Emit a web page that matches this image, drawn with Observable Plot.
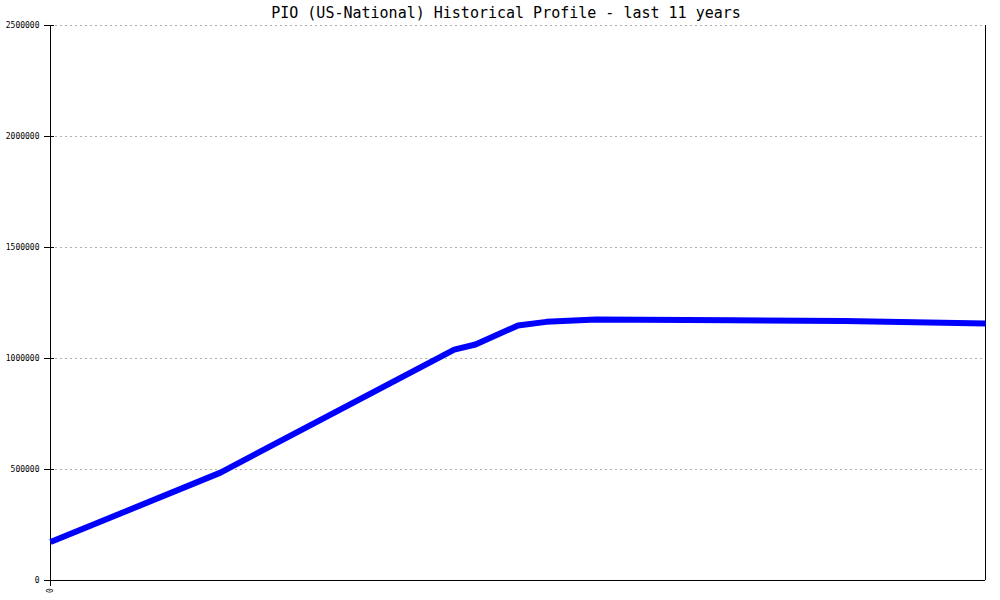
<!DOCTYPE html>
<html>
<head>
<meta charset="utf-8">
<script src="https://cdn.jsdelivr.net/npm/d3@7"></script>
<script src="https://cdn.jsdelivr.net/npm/@observablehq/plot@0.6"></script>
<style>
  html, body { margin: 0; padding: 0; background: #fff; }
  #chart svg { display: block; }
</style>
</head>
<body>
<div id="chart"></div>
<script>
// Month index since start of 11-year window
const months = [0, 24, 57, 60, 66, 70, 77, 96, 112, 120, 128, 132];
// Values
const values = [173000, 486000, 1040000, 1063000, 1149000, 1165000, 1176000, 1172000, 1169000, 1164000, 1160000, 1158000];
const yTicks = [0, 500000, 1000000, 1500000, 2000000, 2500000];
const xTicks = [0];
const titleText = "PIO (US-National) Historical Profile - last 11 years";

const data = months.map((m, i) => ({m, v: values[i]}));

const chart = Plot.plot({
  width: 1000,
  height: 600,
  marginLeft: 50,
  marginRight: 15,
  marginTop: 25,
  marginBottom: 20,
  style: {fontFamily: "'DejaVu Sans Mono', monospace", background: "#fff"},
  x: {domain: [0, 132], label: null},
  y: {domain: [0, 2500000], label: null},
  marks: [
    Plot.gridY(yTicks.filter(d => d > 0), {stroke: "#b0b0b0", strokeOpacity: 1, strokeDasharray: "2,3"}),
    Plot.axisY(yTicks, {text: null, tickSize: 10, dx: 4, stroke: "#000", label: null}),
    Plot.axisY(yTicks, {tickSize: 0, tickPadding: 11, tickFormat: d => String(d), fontSize: 8, fill: "#000", label: null}),
    Plot.axisX(xTicks, {tickSize: 5, tickRotate: -90, tickPadding: 4, tickFormat: d => String(d), fontSize: 8, fill: "#000", stroke: "#000", textAnchor: "middle", dy: 1, label: null}),
    Plot.ruleX([0], {stroke: "#000"}),
    Plot.ruleX([132], {stroke: "#000"}),
    Plot.ruleY([0], {stroke: "#000"}),
    Plot.line(data, {x: "m", y: "v", stroke: "#0000ff", strokeWidth: 6, strokeLinejoin: "round", strokeLinecap: "butt"}),
    Plot.text([titleText], {frameAnchor: "top", text: d => d, dy: -18, dx: -12, fontSize: 15, fill: "#000", fontFamily: "'DejaVu Sans Mono', monospace"})
  ]
});
document.getElementById("chart").appendChild(chart);
</script>
</body>
</html>
